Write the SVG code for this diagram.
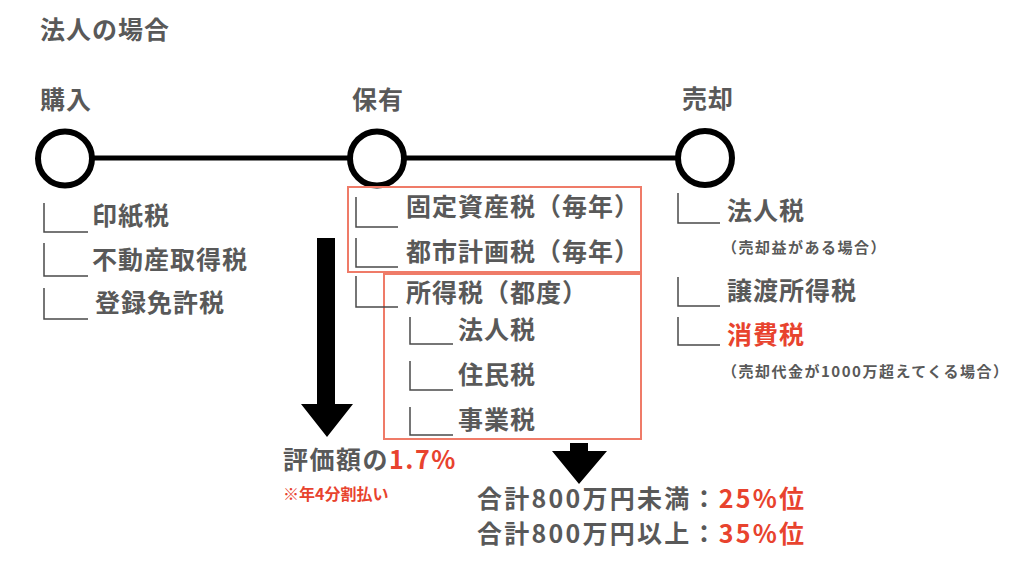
<svg xmlns="http://www.w3.org/2000/svg" width="1024" height="564" viewBox="0 0 1024 564">
<style>
  text { font-family: "Noto Sans CJK JP", "Noto Sans", sans-serif; font-weight: 700; fill: #595959; }
  .t { font-size: 25px; letter-spacing: 1px; }
  .s { font-size: 15px; letter-spacing: 1.5px; }
  .red { fill: #e8432e; }
  .br { fill: none; stroke: #4a4a4a; stroke-width: 1.5; }
  .box { fill: none; stroke: #ef7b68; stroke-width: 2; }
  .node { fill: #ffffff; stroke: #000000; stroke-width: 6; }
  .arrow { fill: #000000; stroke: none; }
</style>
<rect x="0" y="0" width="1024" height="564" fill="#ffffff"/>

<text id="title" class="t" x="40" y="39">法人の場合</text>

<g id="connectors">
  <line x1="65" y1="158" x2="705" y2="158" stroke="#000000" stroke-width="5"/>
  <path class="arrow" d="M317,238 H335 V404 H353 L327,437 L301,404 H317 Z"/>
  <path class="arrow" d="M570,443 H588 V451 H607 L579,484 L552,451 H570 Z"/>
</g>

<g id="purchase">
  <circle class="node" cx="65" cy="158.5" r="27"/>
  <text class="t" x="40" y="109">購入</text>
  <path class="br" d="M44,203 V232 H88"/>
  <text class="t" x="92" y="225">印紙税</text>
  <path class="br" d="M44,243 V276 H88"/>
  <text class="t" x="92" y="269">不動産取得税</text>
  <path class="br" d="M44,288 V319 H88"/>
  <text class="t" x="95" y="312">登録免許税</text>
</g>

<g id="holding">
  <circle class="node" cx="377" cy="158.5" r="27"/>
  <text class="t" x="352" y="109">保有</text>
  <rect class="box" x="348" y="187" width="293" height="85"/>
  <rect class="box" x="384" y="274" width="257" height="165"/>
  <path class="br" d="M356,197 V227 H398"/>
  <text class="t" x="406" y="216">固定資産税（毎年）</text>
  <path class="br" d="M356,238 V267 H398"/>
  <text class="t" x="406" y="261">都市計画税（毎年）</text>
  <path class="br" d="M356,276 V307 H398"/>
  <text class="t" x="406" y="302">所得税（都度）</text>
  <path class="br" d="M410,317 V344 H453"/>
  <text class="t" x="458" y="339">法人税</text>
  <path class="br" d="M410,361 V390 H453"/>
  <text class="t" x="458" y="384">住民税</text>
  <path class="br" d="M410,407 V435 H453"/>
  <text class="t" x="458" y="429">事業税</text>
</g>

<g id="sale">
  <circle class="node" cx="705" cy="158" r="27"/>
  <text class="t" x="682" y="108">売却</text>
  <path class="br" d="M678,193 V223 H720"/>
  <text class="t" x="727" y="220">法人税</text>
  <text class="s" x="722" y="253">（売却益がある場合）</text>
  <path class="br" d="M678,277 V306 H720"/>
  <text class="t" x="727" y="300">譲渡所得税</text>
  <path class="br" d="M678,317 V345 H720"/>
  <text class="t red" x="727" y="344">消費税</text>
  <text class="s" x="722" y="377">（売却代金が1000万超えてくる場合）</text>
</g>

<g id="property-tax-rate">
  <text x="283" y="469" style="font-size:25px;letter-spacing:1.5px">評価額の<tspan class="red">1.7%</tspan></text>
  <text class="red" x="283" y="500" style="font-size:16px">※年4分割払い</text>
</g>

<g id="income-tax-rate">
  <text x="477" y="508" style="font-size:25px" textLength="327" lengthAdjust="spacing">合計800万円未満：<tspan class="red">25%位</tspan></text>
  <text x="477" y="543" style="font-size:25px" textLength="327" lengthAdjust="spacing">合計800万円以上：<tspan class="red">35%位</tspan></text>
</g>
</svg>
